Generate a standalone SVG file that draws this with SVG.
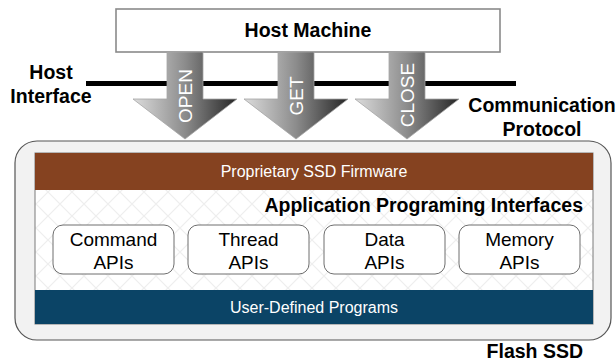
<svg xmlns="http://www.w3.org/2000/svg" width="616" height="364" viewBox="0 0 616 364">
  <defs>
    <linearGradient id="arrowGrad" x1="0" y1="0" x2="1" y2="0">
      <stop offset="0" stop-color="#dcdcdc"/>
      <stop offset="0.5" stop-color="#8c8c8c"/>
      <stop offset="1" stop-color="#262626"/>
    </linearGradient>
    <pattern id="lattice" width="24" height="24" patternUnits="userSpaceOnUse">
      <rect width="24" height="24" fill="#ffffff"/>
      <path d="M0,0 L24,24 M24,0 L0,24" stroke="#eeeeee" stroke-width="1.2" fill="none"/>
    </pattern>
    <style>
      .lbl { font-family: "Liberation Sans", Arial, sans-serif; font-weight: bold; font-size: 19.5px; fill: #000; }
      .bar { font-family: "Liberation Sans", Arial, sans-serif; font-size: 16px; fill: #fff; text-anchor: middle; }
      .api { font-family: "Liberation Sans", Arial, sans-serif; font-size: 19px; fill: #000; text-anchor: middle; }
      .arrow { fill: url(#arrowGrad); stroke: #a5a5a5; stroke-width: 0.8; }
      .atxt { font-family: "Liberation Sans", Arial, sans-serif; font-size: 19px; fill: #fff; text-anchor: middle; }
      .apibox { fill: #ffffff; stroke: #6e6e6e; stroke-width: 1; }
    </style>
  </defs>

  <rect width="616" height="364" fill="#ffffff"/>

  <g id="host-machine">
    <rect x="116" y="9" width="384" height="43" fill="#ffffff" stroke="#8a8a8a" stroke-width="1.6"/>
    <text class="lbl" x="308" y="37" text-anchor="middle">Host Machine</text>
  </g>

  <g id="host-interface">
    <line x1="86" y1="83.5" x2="516" y2="83.5" stroke="#000" stroke-width="5"/>
    <text class="lbl" x="51" y="79" text-anchor="middle">Host</text>
    <text class="lbl" x="51" y="103" text-anchor="middle">Interface</text>
  </g>

  <g id="protocol-label">
    <text class="lbl" x="542" y="112" text-anchor="middle">Communication</text>
    <text class="lbl" x="542" y="136" text-anchor="middle">Protocol</text>
  </g>

  <g id="connectors">
    <g id="arrow-open">
      <path class="arrow" d="M167,52 L203,52 L203,99 L237,99 L185,139 L133,99 L167,99 Z"/>
      <text class="atxt" transform="translate(191.8,96) rotate(-90)">OPEN</text>
    </g>
    <g id="arrow-get">
      <path class="arrow" d="M278,52 L314,52 L314,99 L348,99 L296,139 L244,99 L278,99 Z"/>
      <text class="atxt" transform="translate(302.8,96) rotate(-90)">GET</text>
    </g>
    <g id="arrow-close">
      <path class="arrow" d="M389,52 L425,52 L425,99 L459,99 L407,139 L355,99 L389,99 Z"/>
      <text class="atxt" transform="translate(413.8,95) rotate(-90)">CLOSE</text>
    </g>
  </g>

  <g id="flash-ssd">
    <rect x="15" y="141" width="596" height="199" rx="22" ry="22" fill="#f2f2f2" stroke="#555555" stroke-width="1.2"/>
    <rect x="35" y="153" width="558" height="171" fill="url(#lattice)" stroke="#7a7a7a" stroke-width="1"/>
    <text class="lbl" x="583" y="358" text-anchor="end">Flash SSD</text>
  </g>

  <g id="firmware">
    <rect x="35" y="153" width="558" height="37" fill="#854220"/>
    <text class="bar" x="314" y="177">Proprietary SSD Firmware</text>
  </g>

  <g id="api-layer">
    <text class="lbl" x="583" y="212" text-anchor="end">Application Programing Interfaces</text>
  </g>

  <g id="command-apis">
    <rect class="apibox" x="53" y="225" width="121" height="49" rx="10"/>
    <text class="api" x="113.5" y="246">Command</text>
    <text class="api" x="113.5" y="269">APIs</text>
  </g>
  <g id="thread-apis">
    <rect class="apibox" x="188" y="225" width="121" height="49" rx="10"/>
    <text class="api" x="248.5" y="246">Thread</text>
    <text class="api" x="248.5" y="269">APIs</text>
  </g>
  <g id="data-apis">
    <rect class="apibox" x="324" y="225" width="121" height="49" rx="10"/>
    <text class="api" x="384.5" y="246">Data</text>
    <text class="api" x="384.5" y="269">APIs</text>
  </g>
  <g id="memory-apis">
    <rect class="apibox" x="459" y="225" width="121" height="49" rx="10"/>
    <text class="api" x="519.5" y="246">Memory</text>
    <text class="api" x="519.5" y="269">APIs</text>
  </g>

  <g id="user-programs">
    <rect x="35" y="290" width="558" height="34" fill="#0b4466"/>
    <text class="bar" x="314" y="313">User-Defined Programs</text>
  </g>
</svg>
